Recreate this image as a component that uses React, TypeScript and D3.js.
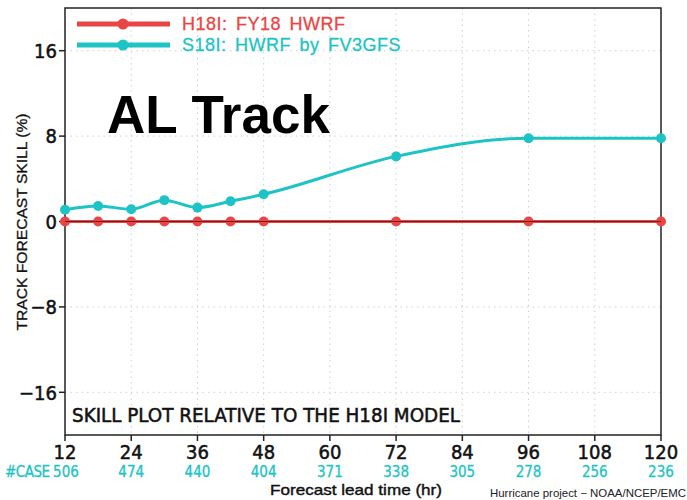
import React from "react";
import * as d3 from "d3";

const leadTimes = [12, 18, 24, 30, 36, 42, 48, 72, 96, 120];
const h18iSkill = [0, 0, 0, 0, 0, 0, 0, 0, 0, 0];
const s18iSkill = [1.1, 1.45, 1.15, 2.0, 1.3, 1.9, 2.55, 6.1, 7.8, 7.8];
const xTicks = [12, 24, 36, 48, 60, 72, 84, 96, 108, 120];
const caseCounts = [506, 474, 440, 404, 371, 338, 305, 278, 256, 236];
const yTicks = [-16, -8, 0, 8, 16];
const seriesNames = ["H18I: FY18 HWRF", "S18I: HWRF by FV3GFS"];

const RED = "#ea4545";
const CYAN = "#1ec3c6";
const NARROW = "'Liberation Sans Narrow', 'DejaVu Sans Condensed', 'Liberation Sans', sans-serif";
const SANS = "'Liberation Sans', Arial, sans-serif";

export default function App() {
  const W = 687, H = 500;
  const left = 65, right = 661, top = 8, bottom = 435;
  const x = d3.scaleLinear().domain([12, 120]).range([left, right]);
  const y = d3.scaleLinear().domain([-20, 20]).range([bottom, top]);

  const line = d3
    .line<number>()
    .x((_, i) => x(leadTimes[i]))
    .y((v) => y(v))
    .curve(d3.curveMonotoneX);

  const legendY = [24, 45];
  const colors = [RED, CYAN];

  return (
    <svg
      width={W}
      height={H}
      style={{ position: "absolute", left: 0, top: 0, background: "#fff" }}
    >
      {/* grid */}
      {yTicks
        .filter((t) => t !== 0)
        .map((t) => (
          <line key={"gy" + t} x1={left} x2={right} y1={y(t)} y2={y(t)} stroke="#cfcfcf" strokeWidth={1} strokeDasharray="1.5,4" />
        ))}
      {xTicks.slice(1, -1).map((t) => (
        <line key={"gx" + t} x1={x(t)} x2={x(t)} y1={top} y2={bottom} stroke="#cfcfcf" strokeWidth={1} strokeDasharray="1.5,4" />
      ))}

      {/* frame */}
      <rect x={left} y={top} width={right - left} height={bottom - top} fill="none" stroke="#222" strokeWidth={1.5} />

      {/* y ticks */}
      {yTicks.map((t) => (
        <g key={"yt" + t}>
          <line x1={left - 6} x2={left} y1={y(t)} y2={y(t)} stroke="#222" strokeWidth={1.5} />
          <text x={left - 8} y={y(t)} dy="0.36em" textAnchor="end" fontFamily={NARROW} fontSize={20} fill="#111" stroke="#111" strokeWidth={0.5}>
            {t < 0 ? "\u2212" + Math.abs(t) : String(t)}
          </text>
        </g>
      ))}

      {/* x ticks */}
      {xTicks.map((t, i) => (
        <g key={"xt" + t}>
          <line x1={x(t)} x2={x(t)} y1={bottom} y2={bottom + 6} stroke="#222" strokeWidth={1.5} />
          <text x={x(t)} y={459} textAnchor="middle" fontFamily={NARROW} fontSize={20} fill="#111" stroke="#111" strokeWidth={0.5}>
            {t}
          </text>
          <text x={x(t) + (i === 0 ? 1 : 0)} y={477} textAnchor="middle" fontFamily={NARROW} fontSize={15} fill={CYAN} stroke={CYAN} strokeWidth={0.3}>
            {caseCounts[i]}
          </text>
        </g>
      ))}
      <text x={5} y={477} fontFamily={NARROW} fontSize={15} fill={CYAN} stroke={CYAN} strokeWidth={0.3} letterSpacing={-0.5}>
        #CASE
      </text>

      {/* series */}
      <line x1={x(12)} x2={x(120)} y1={y(0)} y2={y(0)} stroke={RED} strokeWidth={3} />
      <path d={line(s18iSkill) || ""} fill="none" stroke={CYAN} strokeWidth={3} />
      {leadTimes.map((t, i) => (
        <circle key={"r" + t} cx={x(t)} cy={y(h18iSkill[i])} r={5} fill={RED} />
      ))}
      <line x1={x(12)} x2={x(120)} y1={y(0)} y2={y(0)} stroke="#5a1010" strokeWidth={1} opacity={0.8} />
      {leadTimes.map((t, i) => (
        <circle key={"c" + t} cx={x(t)} cy={y(s18iSkill[i])} r={5} fill={CYAN} />
      ))}

      {/* legend */}
      {seriesNames.map((n, i) => (
        <g key={n}>
          <line x1={77} x2={170} y1={legendY[i]} y2={legendY[i]} stroke={colors[i]} strokeWidth={5} />
          <circle cx={123} cy={legendY[i]} r={5.5} fill={colors[i]} />
          <text x={182} y={legendY[i]} dy="0.36em" fontFamily={SANS} fontSize={18} fill={colors[i]} stroke={colors[i]} strokeWidth={0.3} letterSpacing={0.5} wordSpacing={3}>
            {n}
          </text>
        </g>
      ))}

      {/* big title */}
      <text x={107} y={133} fontFamily={SANS} fontWeight="bold" fontSize={53} fill="#000">
        AL Track
      </text>

      <text x={72} y={422} fontFamily={NARROW} fontSize={20} fill="#111" stroke="#111" strokeWidth={0.5} textLength={388} lengthAdjust="spacingAndGlyphs">
        SKILL PLOT RELATIVE TO THE H18I MODEL
      </text>

      {/* axis titles */}
      <text
        transform="translate(22,222) rotate(-90)"
        textAnchor="middle"
        fontFamily={SANS}
        fontSize={15}
        fill="#111"
        stroke="#111"
        strokeWidth={0.3}
        dy="0.36em"
        textLength={217}
        lengthAdjust="spacingAndGlyphs"
      >
        TRACK FORECAST SKILL (%)
      </text>
      <text x={270} y={495} fontFamily={SANS} fontSize={15} fill="#111" stroke="#111" strokeWidth={0.4} textLength={172} lengthAdjust="spacingAndGlyphs">
        Forecast lead time (hr)
      </text>
      <text x={490} y={497} fontFamily={SANS} fontSize={10.5} fill="#222" textLength={196} lengthAdjust="spacingAndGlyphs">
        Hurricane project {"\u2212"} NOAA/NCEP/EMC
      </text>
    </svg>
  );
}
